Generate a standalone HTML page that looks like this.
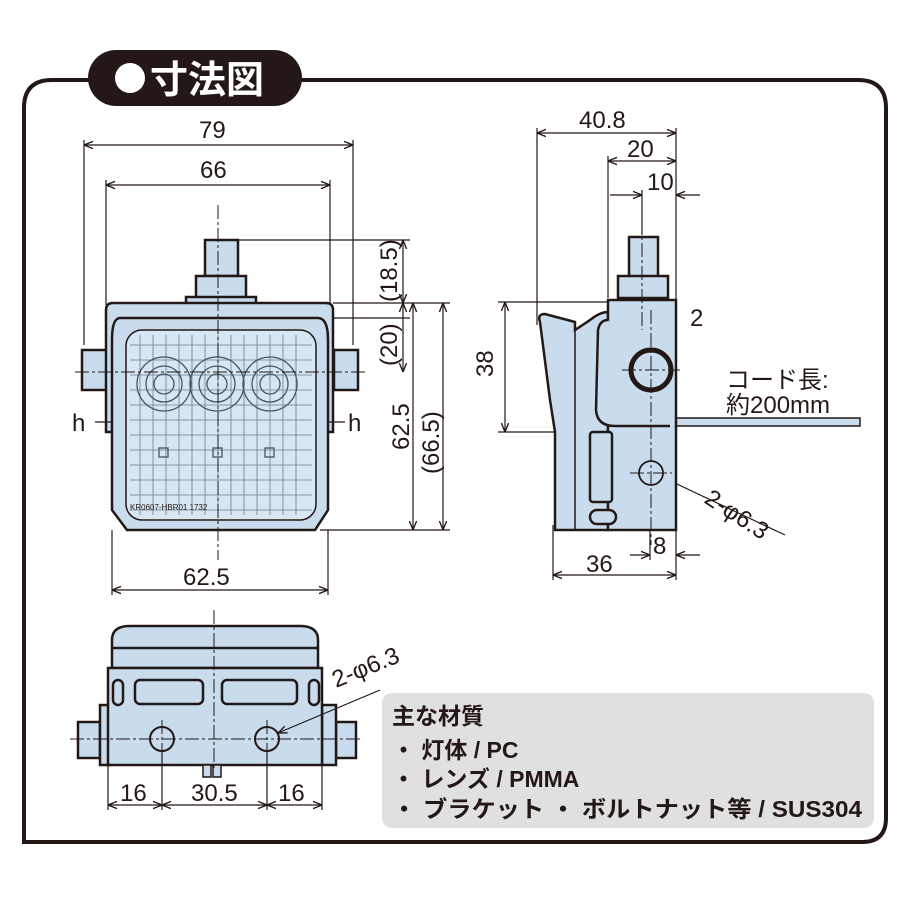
<!DOCTYPE html>
<html><head><meta charset="utf-8"><style>
html,body{margin:0;padding:0;background:#fff}
svg{display:block}
text{font-family:"Liberation Sans","Noto Sans CJK JP",sans-serif;fill:#231815}
.d{font-size:24px}
.m{font-size:23px;font-weight:bold}
</style></head><body>
<svg width="900" height="900" viewBox="0 0 900 900" xmlns="http://www.w3.org/2000/svg">
<defs>
<marker id="a" viewBox="0 0 10 10" refX="10" refY="5" markerWidth="9" markerHeight="9" orient="auto-start-reverse" markerUnits="userSpaceOnUse"><path d="M0,1 L10,5 L0,9" fill="none" stroke="#231815" stroke-width="1.5"/></marker>
</defs>
<!-- frame -->
<path d="M300,80 H858 Q886,80 886,108 V818 Q886,842 862,842 H24 V108 Q24,80 52,80 H90" fill="none" stroke="#231815" stroke-width="4"/>
<rect x="88" y="50" width="214" height="56" rx="28" fill="#231815"/>
<circle cx="130" cy="78" r="15" fill="#fff"/>
<text x="150" y="93" font-size="38" font-weight="bold" style="fill:#fff">寸法図</text>

<g stroke="#231815" fill="none" stroke-width="1.2">
<line x1="84" y1="145" x2="353" y2="145" marker-start="url(#a)" marker-end="url(#a)"/>
<line x1="84" y1="140" x2="84" y2="345"/><line x1="353" y1="140" x2="353" y2="345"/>
<line x1="106" y1="185" x2="330" y2="185" marker-start="url(#a)" marker-end="url(#a)"/>
<line x1="106" y1="180" x2="106" y2="305"/><line x1="330" y1="180" x2="330" y2="305"/>
<line x1="238" y1="240" x2="410" y2="240"/>
<line x1="333" y1="303" x2="450" y2="303"/>
<line x1="330" y1="318" x2="410" y2="318"/>
<line x1="320" y1="530" x2="450" y2="530"/>
<line x1="403" y1="240" x2="403" y2="303" marker-start="url(#a)" marker-end="url(#a)"/>
<line x1="403" y1="303" x2="403" y2="372" marker-start="url(#a)" marker-end="url(#a)"/>
<line x1="413" y1="303" x2="413" y2="530" marker-start="url(#a)" marker-end="url(#a)"/>
<line x1="443" y1="303" x2="443" y2="530" marker-start="url(#a)" marker-end="url(#a)"/>
<line x1="112" y1="530" x2="112" y2="595"/><line x1="328" y1="530" x2="328" y2="595"/>
<line x1="112" y1="590" x2="328" y2="590" marker-start="url(#a)" marker-end="url(#a)"/>
</g>
<g stroke="#231815" stroke-width="2.5" fill="#c8dcee">
<rect x="205" y="240" width="33" height="36"/>
<rect x="196" y="276" width="50" height="22"/>
<rect x="186" y="297" width="70" height="8"/>
<rect x="82" y="350" width="26" height="40"/>
<rect x="334" y="350" width="24" height="40"/>
<path d="M106,310 Q106,303 113,303 H326 Q333,303 333,310 V432 H106 Z"/>
<path d="M120,318 H318 Q328,318 328,340 V510 L315,530 H127 L112,510 V340 Q112,318 120,318 Z"/>
<rect x="126" y="330" width="190" height="190" rx="16" fill="#d6e6f3" stroke-width="1.5"/>
</g>
<g stroke="#6b7d8d" stroke-width="0.8" fill="none">
<path d="M130,345 H312 M130,360 H312 M130,375 H312 M130,390 H312 M130,405 H312 M130,420 H312 M130,435 H312 M130,450 H312 M130,465 H312 M130,480 H312 M130,495 H312 M130,510 H312"/>
<path d="M140,335 V515 M153,335 V515 M166,335 V515 M179,335 V515 M192,335 V515 M205,335 V515 M218,335 V515 M231,335 V515 M244,335 V515 M257,335 V515 M270,335 V515 M283,335 V515 M296,335 V515"/>
</g>
<g stroke="#435566" stroke-width="1.3" fill="none">
<circle cx="164" cy="384" r="27"/><circle cx="164" cy="384" r="18"/><circle cx="164" cy="384" r="10"/>
<circle cx="217" cy="384" r="27"/><circle cx="217" cy="384" r="18"/><circle cx="217" cy="384" r="10"/>
<circle cx="270" cy="384" r="27"/><circle cx="270" cy="384" r="18"/><circle cx="270" cy="384" r="10"/>
<rect x="159" y="448" width="9" height="9"/><rect x="213" y="448" width="9" height="9"/><rect x="265" y="448" width="9" height="9"/>
</g>
<g stroke="#231815" stroke-width="1" stroke-dasharray="14 3 3 3" fill="none">
<line x1="218" y1="205" x2="218" y2="560"/>
<line x1="75" y1="372" x2="365" y2="372"/>
</g>
<g stroke="#231815" stroke-width="1.2"><line x1="95" y1="422" x2="112" y2="422"/><line x1="328" y1="422" x2="345" y2="422"/></g>
<text x="72" y="431" class="d">h</text><text x="348" y="431" class="d">h</text>
<text x="130" y="510" font-size="8">KR0607-HBR01 1732</text>
<text x="199" y="138" class="d">79</text>
<text x="200" y="178" class="d">66</text>
<text x="183" y="585" class="d">62.5</text>
<text class="d" font-size="19" transform="translate(397,302) rotate(-90)">(18.5)</text>
<text class="d" font-size="19" transform="translate(397,366) rotate(-90)">(20)</text>
<text class="d" transform="translate(409,450) rotate(-90)">62.5</text>
<text class="d" transform="translate(439,474) rotate(-90)">(66.5)</text>

<!-- side view -->
<g stroke="#231815" fill="none" stroke-width="1.2">
<line x1="537" y1="133" x2="676" y2="133" marker-start="url(#a)" marker-end="url(#a)"/>
<line x1="537" y1="128" x2="537" y2="325"/><line x1="676" y1="128" x2="676" y2="300"/>
<line x1="608" y1="161" x2="676" y2="161" marker-start="url(#a)" marker-end="url(#a)"/>
<line x1="608" y1="156" x2="608" y2="298"/>
<line x1="610" y1="195" x2="642" y2="195" marker-end="url(#a)"/>
<line x1="700" y1="195" x2="676" y2="195" marker-end="url(#a)"/>
<line x1="642" y1="190" x2="642" y2="235"/>
<line x1="505" y1="302" x2="505" y2="432" marker-start="url(#a)" marker-end="url(#a)"/>
<line x1="498" y1="302" x2="608" y2="302"/><line x1="498" y1="432" x2="570" y2="432"/>
<line x1="620" y1="330" x2="642" y2="330" marker-end="url(#a)"/>
<line x1="676" y1="330" x2="650" y2="330" marker-end="url(#a)"/>
<line x1="553" y1="525" x2="553" y2="580"/><line x1="676" y1="530" x2="676" y2="580"/>
<line x1="553" y1="575" x2="676" y2="575" marker-start="url(#a)" marker-end="url(#a)"/>
<line x1="630" y1="555" x2="650" y2="555" marker-end="url(#a)"/>
<line x1="700" y1="555" x2="676" y2="555" marker-end="url(#a)"/>
<line x1="650" y1="530" x2="650" y2="560"/>
<line x1="785" y1="535" x2="662" y2="477" marker-end="url(#a)"/>
</g>
<g stroke="#231815" stroke-width="2.5" fill="#c8dcee">
<rect x="676" y="418" width="184" height="8" stroke-width="1.5"/>
<rect x="629" y="237" width="29" height="40"/>
<rect x="618" y="276" width="50" height="22"/>
<path d="M540,322 Q537,314 545,314 L575,322 V330 L590,320 Q600,312 608,312 V530 H555 V432 L550,400 Z"/>
<path d="M608,300 H676 V530 H608 Z"/>
<path d="M608,320 Q600,320 598,330 L596,410 Q597,426 615,426 H670"/>
<rect x="590" y="432" width="22" height="70" rx="3"/>
<rect x="590" y="510" width="26" height="14" rx="7"/>
</g>
<line x1="575" y1="330" x2="575" y2="530" stroke="#231815" stroke-width="1.5"/>
<circle cx="651" cy="370" r="20" fill="#c8dcee" stroke="#231815" stroke-width="5"/>
<circle cx="651" cy="473" r="12" fill="#c8dcee" stroke="#231815" stroke-width="1.8"/>
<g stroke="#231815" stroke-width="1" stroke-dasharray="14 3 3 3" fill="none">
<line x1="651" y1="310" x2="651" y2="545"/><line x1="642" y1="220" x2="642" y2="330"/>
<line x1="622" y1="370" x2="680" y2="370"/><line x1="630" y1="473" x2="672" y2="473"/>
</g>
<text x="579" y="128" class="d">40.8</text>
<text x="627" y="157" class="d">20</text>
<text x="647" y="190" class="d">10</text>
<text x="690" y="326" class="d">2</text>
<text class="d" transform="translate(493,377) rotate(-90)">38</text>
<text x="726" y="388" class="d">コード長:</text>
<text x="726" y="413" class="d">約200mm</text>
<text class="d" transform="translate(703,502) rotate(33)">2-φ6.3</text>
<text x="586" y="572" class="d">36</text>
<text x="653" y="554" class="d">8</text>

<!-- bottom view -->
<g stroke="#231815" stroke-width="2.5" fill="#c8dcee">
<rect x="78" y="722" width="22" height="36"/>
<rect x="100" y="705" width="10" height="60"/>
<rect x="336" y="722" width="20" height="36"/>
<rect x="322" y="705" width="14" height="60"/>
<path d="M112,668 V640 Q112,626 130,626 H300 Q318,626 318,640 V668 Z"/>
<line x1="112" y1="648" x2="318" y2="648"/>
<rect x="108" y="668" width="214" height="97"/>
<rect x="135" y="680" width="68" height="24" rx="5"/>
<rect x="222" y="680" width="75" height="24" rx="5"/>
<rect x="113" y="680" width="10" height="25" rx="5"/>
<rect x="309" y="680" width="10" height="25" rx="5"/>
<rect x="203" y="765" width="8" height="12" stroke-width="1.5"/><rect x="213" y="765" width="8" height="12" stroke-width="1.5"/>
</g>
<circle cx="162" cy="739" r="12" fill="#c8dcee" stroke="#231815" stroke-width="2"/>
<circle cx="267" cy="739" r="12" fill="#c8dcee" stroke="#231815" stroke-width="2"/>
<g stroke="#231815" stroke-width="1" stroke-dasharray="14 3 3 3" fill="none">
<line x1="70" y1="739" x2="360" y2="739"/>
<line x1="214" y1="610" x2="214" y2="770"/>
<line x1="162" y1="720" x2="162" y2="760"/><line x1="267" y1="720" x2="267" y2="760"/>
</g>
<g stroke="#231815" fill="none" stroke-width="1.2">
<line x1="108" y1="765" x2="108" y2="810"/><line x1="162" y1="752" x2="162" y2="810"/>
<line x1="267" y1="752" x2="267" y2="810"/><line x1="322" y1="765" x2="322" y2="810"/>
<line x1="108" y1="805" x2="162" y2="805" marker-start="url(#a)" marker-end="url(#a)"/>
<line x1="162" y1="805" x2="267" y2="805" marker-start="url(#a)" marker-end="url(#a)"/>
<line x1="267" y1="805" x2="322" y2="805" marker-start="url(#a)" marker-end="url(#a)"/>
<line x1="380" y1="690" x2="278" y2="733" marker-end="url(#a)"/>
</g>
<text x="120" y="801" class="d">16</text>
<text x="191" y="801" class="d">30.5</text>
<text x="278" y="801" class="d">16</text>
<text class="d" transform="translate(336,688) rotate(-22)">2-φ6.3</text>

<!-- materials -->
<rect x="382" y="693" width="492" height="135" rx="10" fill="#e0e0e0"/>
<text x="392" y="724" class="m">主な材質</text>
<text x="392" y="758" class="m">・ 灯体 / PC</text>
<text x="392" y="787" class="m">・ レンズ / PMMA</text>
<text x="392" y="817" class="m" textLength="470" lengthAdjust="spacingAndGlyphs">・ ブラケット ・ ボルトナット等 / SUS304</text>
</svg>
</body></html>
